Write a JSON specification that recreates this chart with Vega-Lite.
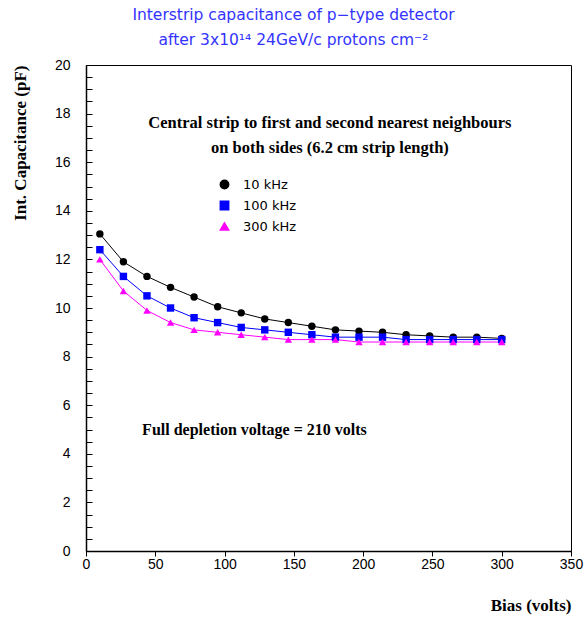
{
  "$schema": "https://vega.github.io/schema/vega-lite/v6.json",
  "width": 485,
  "height": 486,
  "autosize": "none",
  "padding": {"left": 86, "top": 65, "right": 13, "bottom": 66},
  "background": "white",
  "title": {
    "text": ["Interstrip capacitance of p\u2212type detector", "after 3x10\u00b9\u2074 24GeV/c protons cm\u207b\u00b2"],
    "anchor": "middle",
    "dx": -35,
    "offset": 10,
    "font": "DejaVu Sans",
    "fontWeight": "normal",
    "fontSize": 15.5,
    "lineHeight": 25,
    "color": "#3333ff"
  },
  "config": {
    "view": {"stroke": "black", "strokeWidth": 1},
    "axis": {
      "domainColor": "black",
      "domainWidth": 1.5,
      "tickColor": "black",
      "tickWidth": 1,
      "grid": false,
      "labelFont": "Liberation Sans",
      "labelFontSize": 14,
      "labelColor": "black",
      "titleFont": "Liberation Serif",
      "titleFontWeight": "bold",
      "titleFontSize": 17,
      "titleColor": "black"
    },
    "legend": {
      "labelFont": "DejaVu Sans",
      "labelFontSize": 13,
      "labelColor": "black"
    }
  },
  "resolve": {"axis": {"x": "independent", "y": "independent"}},
  "datasets": {
    "series": [
      {"bias": 10, "cap": 13.05, "freq": "10 kHz"},
      {"bias": 27, "cap": 11.9, "freq": "10 kHz"},
      {"bias": 44, "cap": 11.3, "freq": "10 kHz"},
      {"bias": 61, "cap": 10.85, "freq": "10 kHz"},
      {"bias": 78, "cap": 10.45, "freq": "10 kHz"},
      {"bias": 95, "cap": 10.05, "freq": "10 kHz"},
      {"bias": 112, "cap": 9.8, "freq": "10 kHz"},
      {"bias": 129, "cap": 9.55, "freq": "10 kHz"},
      {"bias": 146, "cap": 9.4, "freq": "10 kHz"},
      {"bias": 163, "cap": 9.25, "freq": "10 kHz"},
      {"bias": 180, "cap": 9.1, "freq": "10 kHz"},
      {"bias": 197, "cap": 9.05, "freq": "10 kHz"},
      {"bias": 214, "cap": 9.0, "freq": "10 kHz"},
      {"bias": 231, "cap": 8.9, "freq": "10 kHz"},
      {"bias": 248, "cap": 8.85, "freq": "10 kHz"},
      {"bias": 265, "cap": 8.8, "freq": "10 kHz"},
      {"bias": 282, "cap": 8.8, "freq": "10 kHz"},
      {"bias": 300, "cap": 8.75, "freq": "10 kHz"},
      {"bias": 10, "cap": 12.4, "freq": "100 kHz"},
      {"bias": 27, "cap": 11.3, "freq": "100 kHz"},
      {"bias": 44, "cap": 10.5, "freq": "100 kHz"},
      {"bias": 61, "cap": 10.0, "freq": "100 kHz"},
      {"bias": 78, "cap": 9.6, "freq": "100 kHz"},
      {"bias": 95, "cap": 9.4, "freq": "100 kHz"},
      {"bias": 112, "cap": 9.2, "freq": "100 kHz"},
      {"bias": 129, "cap": 9.1, "freq": "100 kHz"},
      {"bias": 146, "cap": 9.0, "freq": "100 kHz"},
      {"bias": 163, "cap": 8.9, "freq": "100 kHz"},
      {"bias": 180, "cap": 8.8, "freq": "100 kHz"},
      {"bias": 197, "cap": 8.8, "freq": "100 kHz"},
      {"bias": 214, "cap": 8.8, "freq": "100 kHz"},
      {"bias": 231, "cap": 8.7, "freq": "100 kHz"},
      {"bias": 248, "cap": 8.7, "freq": "100 kHz"},
      {"bias": 265, "cap": 8.7, "freq": "100 kHz"},
      {"bias": 282, "cap": 8.7, "freq": "100 kHz"},
      {"bias": 300, "cap": 8.7, "freq": "100 kHz"},
      {"bias": 10, "cap": 12.0, "freq": "300 kHz"},
      {"bias": 27, "cap": 10.7, "freq": "300 kHz"},
      {"bias": 44, "cap": 9.9, "freq": "300 kHz"},
      {"bias": 61, "cap": 9.4, "freq": "300 kHz"},
      {"bias": 78, "cap": 9.1, "freq": "300 kHz"},
      {"bias": 95, "cap": 9.0, "freq": "300 kHz"},
      {"bias": 112, "cap": 8.9, "freq": "300 kHz"},
      {"bias": 129, "cap": 8.8, "freq": "300 kHz"},
      {"bias": 146, "cap": 8.7, "freq": "300 kHz"},
      {"bias": 163, "cap": 8.7, "freq": "300 kHz"},
      {"bias": 180, "cap": 8.7, "freq": "300 kHz"},
      {"bias": 197, "cap": 8.6, "freq": "300 kHz"},
      {"bias": 214, "cap": 8.6, "freq": "300 kHz"},
      {"bias": 231, "cap": 8.6, "freq": "300 kHz"},
      {"bias": 248, "cap": 8.6, "freq": "300 kHz"},
      {"bias": 265, "cap": 8.6, "freq": "300 kHz"},
      {"bias": 282, "cap": 8.6, "freq": "300 kHz"},
      {"bias": 300, "cap": 8.6, "freq": "300 kHz"}
    ],
    "notes": [
      {"bias": 176, "cap": 17.6, "label": "Central strip to first and second nearest neighbours"},
      {"bias": 176, "cap": 16.6, "label": "on both sides (6.2 cm strip length)"}
    ],
    "depletion": [
      {"bias": 40.5, "cap": 4.98, "label": "Full depletion voltage = 210 volts"}
    ]
  },
  "layer": [
    {
      "data": {"name": "series"},
      "mark": {"type": "line", "strokeWidth": 1},
      "encoding": {
        "x": {
          "field": "bias", "type": "quantitative",
          "scale": {"domain": [0, 350], "nice": false, "zero": false},
          "axis": {
            "orient": "bottom",
            "title": "Bias (volts)",
            "titleAnchor": "end",
            "titlePadding": 26,
            "values": [0, 50, 100, 150, 200, 250, 300, 350],
            "tickSize": 5,
            "labelPadding": 1,
            "labelFlush": false,
            "labelOverlap": false
          }
        },
        "y": {
          "field": "cap", "type": "quantitative",
          "scale": {"domain": [0, 20], "nice": false, "zero": false},
          "axis": {
            "orient": "left",
            "title": "Int. Capacitance (pF)",
            "titleAnchor": "end",
            "titlePadding": 25,
            "values": [0, 2, 4, 6, 8, 10, 12, 14, 16, 18, 20],
            "tickSize": 0,
            "labelPadding": 16,
            "labelFlush": false,
            "labelOverlap": false
          }
        },
        "color": {
          "field": "freq", "type": "nominal",
          "scale": {"domain": ["10 kHz", "100 kHz", "300 kHz"], "range": ["#000000", "#0000ff", "#ff00ff"]}
        },
        "detail": {"field": "freq"}
      }
    },
    {
      "data": {"name": "series"},
      "mark": {"type": "point", "filled": true, "opacity": 1, "size": 55},
      "encoding": {
        "x": {"field": "bias", "type": "quantitative", "axis": null},
        "y": {
          "field": "cap", "type": "quantitative",
          "axis": {
            "orient": "right",
            "offset": -485,
            "title": null,
            "labels": false,
            "domain": false,
            "values": [0,0.5,1,1.5,2,2.5,3,3.5,4,4.5,5,5.5,6,6.5,7,7.5,8,8.5,9,9.5,10,10.5,11,11.5,12,12.5,13,13.5,14,14.5,15,15.5,16,16.5,17,17.5,18,18.5,19,19.5,20],
            "tickSize": 6
          }
        },
        "color": {
          "field": "freq", "type": "nominal",
          "legend": {"title": null, "orient": "none", "legendX": 132, "legendY": 113, "rowPadding": 6, "symbolSize": 70, "labelOffset": 12}
        },
        "shape": {
          "field": "freq", "type": "nominal",
          "scale": {"domain": ["10 kHz", "100 kHz", "300 kHz"], "range": ["circle", "square", "triangle-up"]},
          "legend": {"title": null, "orient": "none", "legendX": 132, "legendY": 113, "rowPadding": 6, "symbolSize": 70, "labelOffset": 12}
        }
      }
    },
    {
      "data": {"name": "notes"},
      "mark": {"type": "text", "font": "Liberation Serif", "fontWeight": "bold", "fontSize": 16.5, "align": "center", "baseline": "middle", "color": "black"},
      "encoding": {
        "x": {"field": "bias", "type": "quantitative", "axis": null},
        "y": {"field": "cap", "type": "quantitative", "axis": null},
        "text": {"field": "label"}
      }
    },
    {
      "data": {"name": "depletion"},
      "mark": {"type": "text", "font": "Liberation Serif", "fontWeight": "bold", "fontSize": 16, "align": "left", "baseline": "middle", "color": "black"},
      "encoding": {
        "x": {"field": "bias", "type": "quantitative", "axis": null},
        "y": {"field": "cap", "type": "quantitative", "axis": null},
        "text": {"field": "label"}
      }
    }
  ]
}
